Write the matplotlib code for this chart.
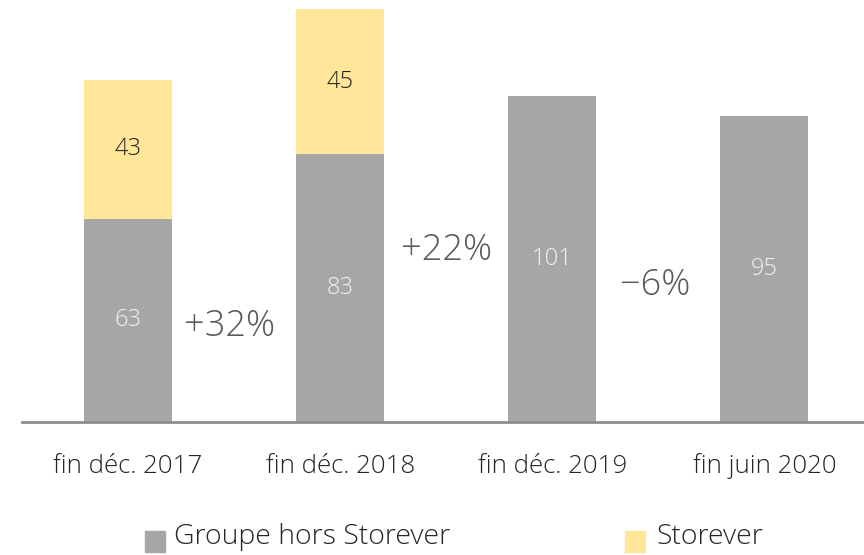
import matplotlib
matplotlib.use("Agg")
import matplotlib.pyplot as plt
from matplotlib.patches import Rectangle
import numpy as np

categories = ["fin déc. 2017", "fin déc. 2018", "fin déc. 2019", "fin juin 2020"]
groupe_hors = [63, 83, 101, 95]
storever = [43, 45, 0, 0]
series_names = ["Groupe hors Storever", "Storever"]
growth_labels = ["+32%", "+22%", "-6%"]
growth_pos_x = [0.48, 1.5, 2.485]
growth_pos_y = [29.5, 53.3, 42.3]

GRAY = "#A6A6A6"
YELLOW = "#FFE699"
FONT = ["Open Sans", "DejaVu Sans"]
WEIGHT = "light"

fig = plt.figure(figsize=(8.64, 5.55), dpi=100)
ax = fig.add_axes([22/864, (555-422)/555, 1 - 22/864, 422/555])
x = np.arange(len(categories))
w = 0.415
ax.bar(x, groupe_hors, width=w, color=GRAY, zorder=2)
ax.bar(x, storever, width=w, bottom=groupe_hors, color=YELLOW, zorder=2)

for i in range(len(categories)):
    ax.text(x[i], groupe_hors[i] / 2, str(groupe_hors[i]), ha="center", va="center",
            fontsize=17, color="#F2F2F2", family=FONT, fontweight=WEIGHT)
    if storever[i] > 0:
        ax.text(x[i], groupe_hors[i] + storever[i] / 2, str(storever[i]), ha="center",
                va="center", fontsize=17, color="#222222", family=FONT, fontweight=WEIGHT)

for i, lab in enumerate(growth_labels):
    ax.text(growth_pos_x[i], growth_pos_y[i], lab.replace("-", "\u2212"), ha="center", va="center",
            fontsize=26, color="#595959", family=FONT, fontweight=WEIGHT)

ax.set_xlim(-0.5, 3.47)
ax.set_ylim(0, 422 / 3.225)
for s in ["top", "right", "left"]:
    ax.spines[s].set_visible(False)
ax.spines["bottom"].set_color("#8C8C8C")
ax.spines["bottom"].set_linewidth(2)
ax.set_yticks([])
ax.set_xticks(x)
ax.set_xticklabels(categories, family=FONT, fontsize=18.6, color="#262626", fontweight=WEIGHT)
ax.tick_params(axis="x", length=0, pad=51 * 0.72)
for t in ax.get_xticklabels():
    t.set_va("baseline")

# legend (manual)
leg_sq_x = [145, 625]
leg_txt_x = [174, 657]
for i, name in enumerate(series_names):
    col = [GRAY, YELLOW][i]
    fig.patches.append(Rectangle((leg_sq_x[i] / 864, 1 - 552 / 555), 20 / 864, 21 / 555,
                                 transform=fig.transFigure, color=col))
    fig.text(leg_txt_x[i] / 864, 1 - 537 / 555, name, ha="left", va="center",
             family=FONT, fontsize=20.5, fontweight=WEIGHT, color="#262626")

fig.savefig("out.png", dpi=100)
